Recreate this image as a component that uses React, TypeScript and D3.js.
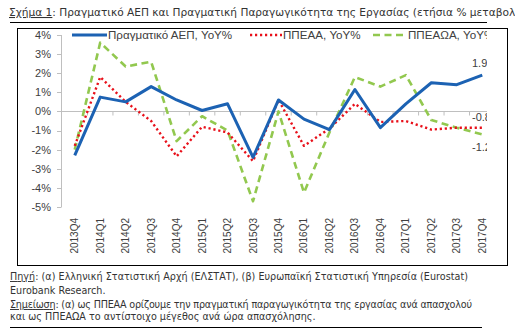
import React from "react";
import * as d3 from "d3";

const categories = ["2013Q4","2014Q1","2014Q2","2014Q3","2014Q4","2015Q1","2015Q2","2015Q3","2015Q4","2016Q1","2016Q2","2016Q3","2016Q4","2017Q1","2017Q2","2017Q3","2017Q4"];
const gdp = [-2.3, 0.75, 0.5, 1.3, 0.6, 0.05, 0.4, -2.4, 0.6, -0.4, -0.95, 1.15, -0.85, 0.4, 1.5, 1.4, 1.9];
const ppeaa = [-1.8, 1.8, 0.5, -0.5, -2.35, -0.8, -1.1, -2.6, 0.6, -1.8, -0.9, 0.4, -0.55, -0.5, -0.95, -0.85, -0.85];
const ppeaoa = [-2.0, 3.6, 2.35, 2.6, -1.55, -0.25, -1.0, -4.7, 0.0, -4.25, -1.1, 1.8, 1.3, 1.9, -0.45, -0.85, -1.2];
const yTicks = [4, 3, 2, 1, 0, -1, -2, -3, -4, -5];
const endLabels = ["1.9", "-0.8", "-1.2"];
const seriesNames = ["Πραγματικό ΑΕΠ, YoY%", "ΠΠΕΑΑ, YoY%", "ΠΠΕΑΩΑ, YoY%"];
const title = "Σχήμα 1";
const titleRest = ": Πραγματικό ΑΕΠ και Πραγματική Παραγωγικότητα της Εργασίας (ετήσια % μεταβολή)";
const sourceLabel = "Πηγή";
const sourceRest = ": (α) Ελληνική Στατιστική Αρχή (ΕΛΣΤΑΤ), (β) Ευρωπαϊκή Στατιστική Υπηρεσία (Eurostat)";
const sourceLine2 = "Eurobank Research.";
const noteLabel = "Σημείωση";
const noteRest = ": (α) ως ΠΠΕΑΑ ορίζουμε την πραγματική παραγωγικότητα της εργασίας ανά απασχολού";
const noteLine2 = "και ως ΠΠΕΑΩΑ το αντίστοιχο μέγεθος ανά ώρα απασχόλησης.";

const BLUE = "#1c62b3";
const RED = "#e8101a";
const GREEN = "#92c84f";

export default function App() {
  const x = d3.scaleBand<string>().domain(categories).range([62, 495]);
  const y = d3.scaleLinear().domain([-5, 4]).range([207, 35]);
  const cx = (c: string) => (x(c) as number) + x.bandwidth() / 2;
  const line = d3.line<number>().x((_, i) => cx(categories[i])).y((d) => y(d));
  const series = [
    { data: ppeaoa, color: GREEN, dash: "7 4.5", w: 2.6 },
    { data: ppeaa, color: RED, dash: "2.2 2.8", w: 2.4 },
    { data: gdp, color: BLUE, dash: null, w: 3 },
  ];
  const last = categories.length - 1;
  const labelFont = "'Liberation Sans', Arial, sans-serif";
  const textFont = "'DejaVu Sans', sans-serif";
  const legendItems = [
    { x0: 72, x1: 107, color: BLUE, dash: null, w: 3, name: seriesNames[0] },
    { x0: 250, x1: 282, color: RED, dash: "2.2 2.8", w: 2.4, name: seriesNames[1] },
    { x0: 373, x1: 407, color: GREEN, dash: "7 4.5", w: 2.6, name: seriesNames[2] },
  ];
  const endVals = [gdp[last], ppeaa[last], ppeaoa[last]];
  const endOffsets = [-12, -11, 13];
  return (
    <svg width={515} height={334} style={{ position: "fixed", left: 0, top: 0, background: "#fff" }}>
      <defs>
        <clipPath id="plotclip">
          <rect x={0} y={0} width={487} height={334} />
        </clipPath>
      </defs>
      <rect width={515} height={334} fill="#fff" />
      {/* title */}
      <text x={9} y={16} fontFamily={textFont} fontSize={10.6} fill="#333">
        <tspan textDecoration="underline">{title}</tspan>
        <tspan>{titleRest}</tspan>
      </text>
      <line x1={10} x2={487} y1={22.5} y2={22.5} stroke="#000" strokeWidth={1} />
      {/* frame */}
      <rect x={17.5} y={28.5} width={490} height={237} fill="none" stroke="#000" strokeWidth={1} />
      <g clipPath="url(#plotclip)">
        {/* y axis */}
        <line x1={61.5} x2={61.5} y1={y(4)} y2={y(-5)} stroke="#bfbfbf" />
        {yTicks.map((t) => (
          <g key={t}>
            <line x1={57} x2={61.5} y1={Math.round(y(t)) + 0.5} y2={Math.round(y(t)) + 0.5} stroke="#bfbfbf" />
            <text x={51} y={y(t)} dy="0.35em" textAnchor="end" fontFamily={labelFont} fontSize={11} fill="#404040">
              {t + "%"}
            </text>
          </g>
        ))}
        {/* zero line */}
        <line x1={61.5} x2={495} y1={Math.round(y(0)) + 0.5} y2={Math.round(y(0)) + 0.5} stroke="#bfbfbf" />
        {categories.map((c) => (
          <line key={"t" + c} x1={(x(c) as number) + x.bandwidth()} x2={(x(c) as number) + x.bandwidth()} y1={Math.round(y(0)) + 0.5} y2={Math.round(y(0)) + 4.5} stroke="#bfbfbf" />
        ))}
        {/* x labels */}
        {categories.map((c) => (
          <text key={c} transform={`translate(${cx(c) + 3.5},218) rotate(-90)`} textAnchor="end" fontFamily={labelFont} fontSize={10} fill="#404040">
            {c}
          </text>
        ))}
        {/* series */}
        {series.map((s, i) => (
          <path key={i} d={line(s.data) as string} fill="none" stroke={s.color} strokeWidth={s.w} strokeDasharray={s.dash ?? undefined} strokeLinejoin="round" />
        ))}
        {/* end labels */}
        {endLabels.map((l, i) => (
          <text key={l} x={472} y={y(endVals[i]) + endOffsets[i]} dy="0.35em" fontFamily={labelFont} fontSize={11} fill="#404040">
            {l}
          </text>
        ))}
        {/* legend */}
        {legendItems.map((it, i) => (
          <g key={i}>
            <line x1={it.x0} x2={it.x1} y1={35} y2={35} stroke={it.color} strokeWidth={it.w} strokeDasharray={it.dash ?? undefined} />
            <text x={it.x1 + 1} y={35} dy="0.35em" fontFamily={labelFont} fontSize={11.6} fill="#404040">
              {it.name}
            </text>
          </g>
        ))}
      </g>
      {/* footer */}
      <text x={10} y={280} fontFamily={textFont} fontSize={9.6} fill="#333" textLength={458} lengthAdjust="spacing">
        <tspan textDecoration="underline">{sourceLabel}</tspan>
        <tspan>{sourceRest}</tspan>
      </text>
      <text x={10} y={294} fontFamily={textFont} fontSize={9.6} fill="#333">
        {sourceLine2}
      </text>
      <text x={10} y={308} fontFamily={textFont} fontSize={9.6} fill="#333" textLength={462} lengthAdjust="spacing">
        <tspan textDecoration="underline">{noteLabel}</tspan>
        <tspan>{noteRest}</tspan>
      </text>
      <text x={10} y={320} fontFamily={textFont} fontSize={9.6} fill="#333">
        {noteLine2}
      </text>
      <line x1={10} x2={482} y1={327.5} y2={327.5} stroke="#000" strokeWidth={1} />
    </svg>
  );
}
